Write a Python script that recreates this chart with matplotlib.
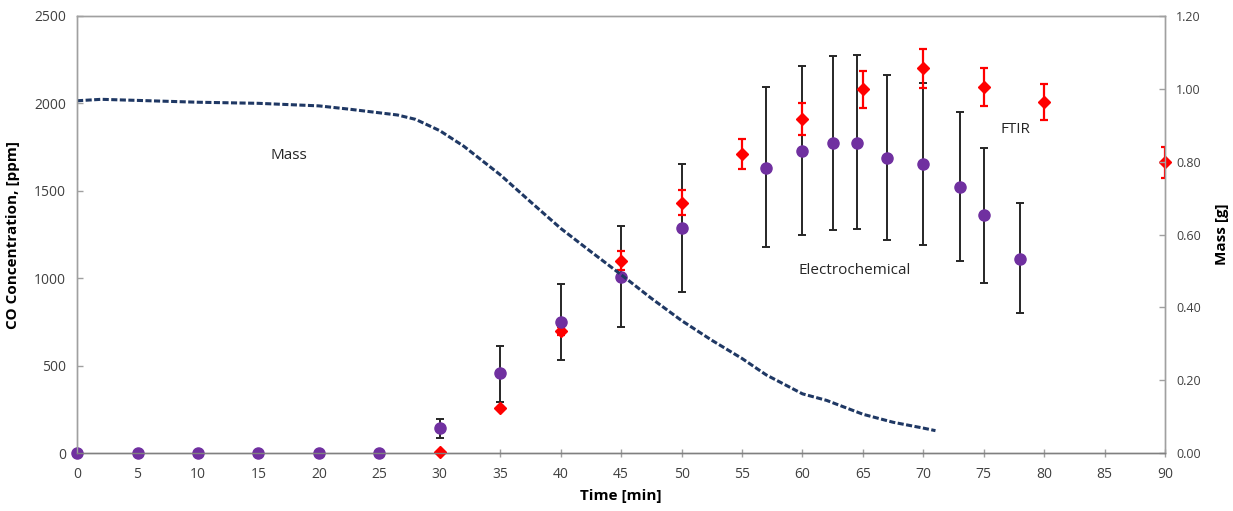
import matplotlib.pyplot as plt
import numpy as np

plt.rcParams['font.family'] = ['Open Sans', 'DejaVu Sans']

# Electrochemical sensor (ppm) with error bar limits
ec_time = [0, 5, 10, 15, 20, 25, 30, 35, 40, 45, 50, 57, 60, 62.5, 64.5, 67, 70, 73, 75, 78]
ec_ppm = [0, 0, 0, 0, 0, 0, 143, 457, 751, 1010, 1286, 1633, 1728, 1772, 1776, 1690, 1652, 1521, 1361, 1113]
ec_hi = [0, 0, 0, 0, 0, 0, 196, 615, 968, 1298, 1654, 2093, 2213, 2271, 2277, 2163, 2115, 1953, 1747, 1429]
ec_lo = [0, 0, 0, 0, 0, 0, 89, 295, 533, 724, 922, 1178, 1246, 1276, 1281, 1220, 1191, 1096, 975, 800]

# FTIR (ppm) with symmetric error
ftir_time = [30, 35, 40, 45, 50, 55, 60, 65, 70, 75, 80, 90]
ftir_ppm = [8, 261, 699, 1101, 1433, 1710, 1910, 2081, 2200, 2093, 2009, 1662]
ftir_err = [0, 0, 25, 53, 72, 88, 93, 105, 110, 107, 102, 86]

# Sample mass (g)
mass_time = [0, 2, 5, 10, 15, 20, 22.5, 25, 26.5, 28, 30, 32, 35, 37.5, 40, 42.5, 45, 47.5,
             50, 52.5, 55, 57, 60, 62, 65, 67.5, 70, 71]
mass_g = [0.967, 0.971, 0.968, 0.963, 0.960, 0.953, 0.944, 0.934, 0.928, 0.916, 0.885, 0.842,
          0.764, 0.690, 0.617, 0.553, 0.490, 0.425, 0.364, 0.310, 0.260, 0.215, 0.163, 0.145,
          0.107, 0.085, 0.069, 0.062]

fig = plt.figure(figsize=(12.33, 5.11), dpi=100)
ax = fig.add_axes([0.0625, 0.113, 0.8825, 0.856])
ax2 = ax.twinx()

gray = '#a0a0a0'
txt = '#404040'

ec_err = [np.array(ec_ppm) - np.array(ec_lo), np.array(ec_hi) - np.array(ec_ppm)]
ax.errorbar(ec_time, ec_ppm, yerr=ec_err, fmt='none', ecolor='#262626',
            elinewidth=1.4, capsize=3, capthick=1.4, zorder=3)
ax.errorbar(ftir_time, ftir_ppm, yerr=ftir_err, fmt='none', ecolor='#FF0000',
            elinewidth=1.6, capsize=3, capthick=1.6, zorder=3)
ax.plot(ftir_time, ftir_ppm, 'D', color='#FF0000', markersize=6, zorder=4, clip_on=False)
ax.plot(ec_time, ec_ppm, 'o', color='#7030A0', markersize=8, zorder=5, clip_on=False)

ax2.plot(mass_time, mass_g, color='#1F3864', linewidth=2.2, linestyle=(0, (2.0, 0.8)))

ax.set_xlim(0, 90)
ax.set_ylim(0, 2500)
ax2.set_ylim(0, 1.2)
ax.set_xticks(np.arange(0, 91, 5))
ax.set_yticks(np.arange(0, 2501, 500))
ax2.set_yticks(np.arange(0, 1.21, 0.2))
ax2.set_yticklabels([f'{v:.2f}' for v in np.arange(0, 1.21, 0.2)])

for a in (ax, ax2):
    for s in a.spines.values():
        s.set_color(gray)
        s.set_linewidth(1.0)
    a.tick_params(colors=gray, labelcolor=txt, labelsize=10, length=4, width=1)
ax.spines['bottom'].set_color('#808080')
ax2.spines['bottom'].set_color('#808080')
ax.tick_params(axis='x', direction='inout', length=6, pad=7)
ax.tick_params(axis='y', direction='in', pad=8)
ax2.tick_params(axis='y', direction='in', pad=8, labelsize=9)

ax.set_xlabel('Time [min]', fontsize=11, fontweight='bold', labelpad=5)
ax.set_ylabel('CO Concentration, [ppm]', fontsize=11, fontweight='bold', labelpad=10)
ax2.set_ylabel('Mass [g]', fontsize=11, fontweight='bold', labelpad=10)

ax.text(17.5, 1700, 'Mass', fontsize=11, color='#262626', ha='center', va='center')
ax.text(64.3, 1045, 'Electrochemical', fontsize=11, color='#262626', ha='center', va='center')
ax.text(77.6, 1850, 'FTIR', fontsize=11, color='#262626', ha='center', va='center')

fig.savefig('out.png', dpi=100)
